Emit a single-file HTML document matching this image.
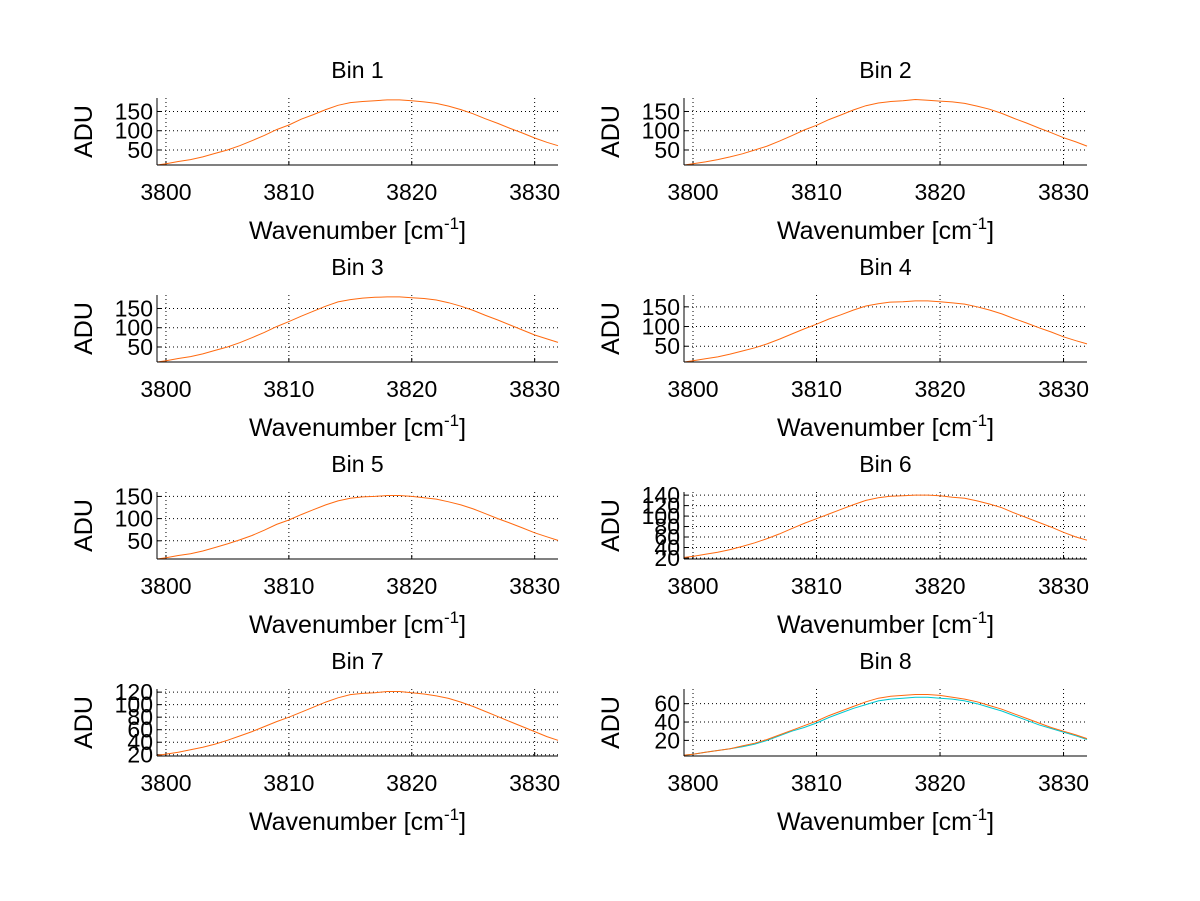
<!DOCTYPE html>
<html><head><meta charset="utf-8"><style>
html,body{margin:0;padding:0;background:#fff;}
svg{display:block;font-family:"Liberation Sans",Arial,sans-serif;}
</style></head>
<body>
<svg id="fig" width="1200" height="901" viewBox="0 0 1200 901" xmlns="http://www.w3.org/2000/svg"></svg>
<script>
const wavenumbers=[3799.3,3800,3801,3802,3803,3804,3805,3806,3807,3808,3809,3810,3811,3812,3813,3814,3815,3816,3817,3818,3819,3820,3821,3822,3823,3824,3825,3826,3827,3828,3829,3830,3831,3831.9];
const xTicks=[3800,3810,3820,3830];
const bin1=[11,14,20,25,32,41,50,61,74,88,103,115,130,142,155,166,173,176,178,180,180,178,175,171,164,155,144,131,119,106,94,81,70,61];
const bin2=[11,14,19,25,32,40,50,60,73,87,102,114,129,141,154,165,172,176,178,181,179,177,175,171,164,156,145,132,120,107,95,82,71,60];
const bin3=[11,14,20,25,32,41,50,61,74,88,103,116,130,143,156,167,173,177,179,180,180,178,176,172,165,156,145,132,120,107,94,81,71,62];
const bin4=[10,13,18,23,30,38,46,56,68,81,94,106,119,130,142,152,158,162,163,165,165,163,160,157,150,142,132,120,109,97,86,74,64,56];
const bin5=[9,12,17,21,27,35,43,52,62,74,87,97,109,120,131,140,146,149,150,152,152,150,147,144,138,131,122,111,100,90,79,68,59,51];
const bin6=[21,23,27,31,36,42,49,57,66,76,86,95,104,113,122,130,135,138,139,140,140,139,136,134,129,123,116,106,97,88,79,69,60,54];
const bin7=[19,21,24,28,32,37,43,50,57,65,73,80,88,96,104,111,116,118,119,121,121,119,117,114,110,104,97,89,81,73,65,57,49,43];
const bin8=[4,5,7,9,11,14,17,21,26,31,36,41,47,52,57,62,66,68,69,70,70,69,67,65,62,58,54,49,44,39,34,30,26,22];
const bin8b=[4,5,7,9,11,13,16,20,25,30,34,39,45,50,55,59,63,65,66,67,67,66,65,63,60,56,52,47,42,37,33,29,25,21];
const yTicks1=[50,100,150], yTicks4=[50,100,150], yTicks5=[50,100,150];
const yTicks6=[20,40,60,80,100,120,140], yTicks7=[20,40,60,80,100,120], yTicks8=[20,40,60];
const panels=[
 {t:"Bin 1",s:[bin1],yt:yTicks1,yl:[11,185]},
 {t:"Bin 2",s:[bin2],yt:yTicks1,yl:[11,185]},
 {t:"Bin 3",s:[bin3],yt:yTicks1,yl:[11,185]},
 {t:"Bin 4",s:[bin4],yt:yTicks4,yl:[10,180]},
 {t:"Bin 5",s:[bin5],yt:yTicks5,yl:[9,160]},
 {t:"Bin 6",s:[bin6],yt:yTicks6,yl:[18,146]},
 {t:"Bin 7",s:[bin7],yt:yTicks7,yl:[18,125]},
 {t:"Bin 8",s:[bin8b,bin8],yt:yTicks8,yl:[3,76]}
];
const NS="http://www.w3.org/2000/svg";
const fig=document.getElementById('fig');
function mk(tag,attrs,parent){const e=document.createElementNS(NS,tag);for(const k in attrs)e.setAttribute(k,attrs[k]);parent.appendChild(e);return e;}
const XMIN=3799.27,XMAX=3831.9;
panels.forEach((p,i)=>{
 const col=i%2,row=Math.floor(i/2);
 const L=col?684:157,R=col?1087:558,T=98+row*197,B=T+67;
 const g=mk('g',{},fig);
 
 
 const sx=v=>L+(v-XMIN)/(XMAX-XMIN)*(R-L);
 const sy=v=>B-(v-p.yl[0])/(p.yl[1]-p.yl[0])*(B-T);
 xTicks.forEach(v=>{
  const x=sx(v);
  const gl=mk('line',{x1:x,x2:x,y1:T,y2:B,stroke:'#000','stroke-width':1,'stroke-dasharray':'1,3'},g);
  
  
  mk('line',{x1:x,x2:x,y1:B,y2:B-4,stroke:'#000'},g);
  const tx=mk('text',{x:x,y:B+35,'font-size':23,'text-anchor':'middle'},g);
  tx.textContent=v;
  
  
 });
 p.yt.forEach(v=>{
  const y=sy(v);
  const gl=mk('line',{x1:L,x2:R,y1:y,y2:y,stroke:'#000','stroke-width':1,'stroke-dasharray':'1,3'},g);
  
  
  mk('line',{x1:L,x2:L+4,y1:y,y2:y,stroke:'#000'},g);
  const ty=mk('text',{x:L-4,y:y+8,'font-size':23,'text-anchor':'end'},g);
  ty.textContent=v;
  
  
 });
 const colors=p.s.length>1?['#00c8d0','#ff6a10']:['#ff6a10'];
 p.s.forEach((ser,k)=>{
  const d=ser.map((v,j)=>(j?'L':'M')+sx(wavenumbers[j]).toFixed(1)+','+sy(v).toFixed(1)).join(' ');
  const pl=mk('path',{d:d,fill:'none',stroke:colors[k],'stroke-width':1},g);
  
  
 });
 mk('line',{x1:L,x2:R,y1:B,y2:B,stroke:'#000'},g);
 mk('line',{x1:L,x2:L,y1:T,y2:B,stroke:'#000'},g);
 const ti=mk('text',{x:(L+R)/2,y:T-20,'font-size':23,'text-anchor':'middle'},g);
 ti.textContent=p.t;
 
 
 const xl=mk('text',{x:(L+R)/2,y:B+74,'font-size':25,'text-anchor':'middle'},g);
 xl.innerHTML='Wavenumber [cm<tspan dy="-10" font-size="17">-1</tspan><tspan dy="10">]</tspan>';
 
 
 const yl=mk('text',{x:0,y:0,'font-size':25,'text-anchor':'middle',transform:'translate('+(L-65)+','+((T+B)/2)+') rotate(-90)'},g);
 yl.textContent='ADU';
 
 
});
</script>
</body></html>
